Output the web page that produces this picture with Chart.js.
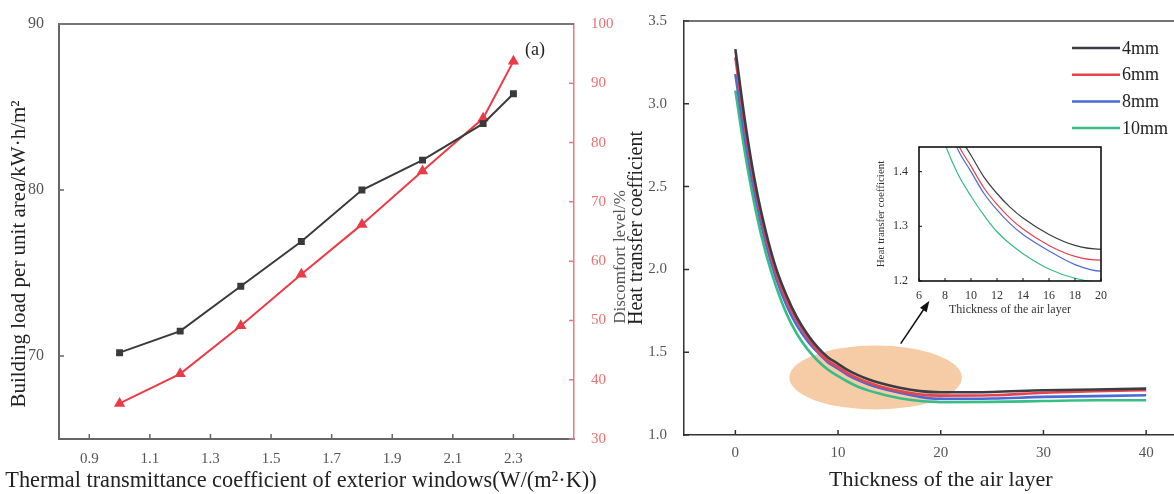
<!DOCTYPE html>
<html>
<head>
<meta charset="utf-8">
<script src="https://cdn.jsdelivr.net/npm/chart.js@4.4.1/dist/chart.umd.min.js"></script>
<style>
  html, body { margin: 0; padding: 0; background: #fff; overflow: hidden; width: 1174px; height: 494px; }
  canvas { position: absolute; top: 0; }
  #loadCanvas { left: 0; }
  #heatCanvas { left: 625px; }
  #insetCanvas { left: 860px; top: 120px; }
</style>
</head>
<body>
<canvas id="loadCanvas" width="625" height="494"></canvas>
<canvas id="heatCanvas" width="575" height="494"></canvas>
<canvas id="insetCanvas" width="250" height="200"></canvas>
<script>
// (a) window U-value vs building load / discomfort
const windowU = [1.0, 1.2, 1.4, 1.6, 1.8, 2.0, 2.2, 2.3];
const buildingLoad = [70.2, 71.5, 74.2, 76.9, 80.0, 81.8, 84.0, 85.8];
const discomfort = [36.0, 41.0, 49.1, 57.8, 66.2, 75.2, 84.1, 93.7];
const windowUTicks = [0.9, 1.1, 1.3, 1.5, 1.7, 1.9, 2.1, 2.3];
const loadTicks = [70, 80, 90];
const discomfortTicks = [30, 40, 50, 60, 70, 80, 90, 100];

// air layer thickness vs heat transfer coefficient, per glass thickness
const airGap = [0, 1, 2, 3, 4, 5, 6, 7, 8, 9, 10, 11, 12, 13, 14, 16, 18, 20, 25, 30, 35, 40];
const glass4mm = [3.33, 2.87, 2.50, 2.22, 2.00, 1.84, 1.71, 1.61, 1.53, 1.47, 1.43, 1.39, 1.36, 1.335, 1.315, 1.285, 1.265, 1.258, 1.26, 1.27, 1.275, 1.28];
const glass6mm = [3.28, 2.83, 2.47, 2.19, 1.97, 1.81, 1.69, 1.59, 1.51, 1.45, 1.41, 1.37, 1.34, 1.315, 1.295, 1.265, 1.245, 1.238, 1.24, 1.255, 1.265, 1.27];
const glass8mm = [3.18, 2.76, 2.42, 2.15, 1.94, 1.78, 1.66, 1.57, 1.50, 1.44, 1.40, 1.36, 1.33, 1.305, 1.285, 1.255, 1.23, 1.218, 1.22, 1.23, 1.235, 1.24];
const glass10mm = [3.08, 2.68, 2.35, 2.09, 1.89, 1.73, 1.61, 1.52, 1.45, 1.395, 1.355, 1.32, 1.29, 1.268, 1.25, 1.222, 1.205, 1.198, 1.2, 1.205, 1.21, 1.21];
const glassLabels = ['4mm', '6mm', '8mm', '10mm'];
const airGapTicks = [0, 10, 20, 30, 40];
const heatTicks = [1.0, 1.5, 2.0, 2.5, 3.0, 3.5];
const insetXTicks = [6, 8, 10, 12, 14, 16, 18, 20];
const insetYTicks = [1.2, 1.3, 1.4];

const SERIF = "'Liberation Serif', 'DejaVu Serif', serif";
const glassColors = ['#3c3c44', '#e5444e', '#4b6ad6', '#37bd86'];

const toPoints = (xs, ys) => xs.map((x, i) => ({ x: x, y: ys[i] }));
const setTicks = values => scale => { scale.ticks = values.map(v => ({ value: v })); };

// short tick marks pointing into the plot
const innerTicks = {
  id: 'innerTicks',
  afterDraw(chart, args, opts) {
    const ctx = chart.ctx;
    const area = chart.chartArea;
    ctx.save();
    (opts.axes || []).forEach(a => {
      const scale = chart.scales[a.id];
      ctx.strokeStyle = a.color;
      ctx.lineWidth = a.width || 1.5;
      ctx.beginPath();
      scale.ticks.forEach(t => {
        const p = scale.getPixelForValue(t.value);
        if (a.side === 'bottom') { ctx.moveTo(p, area.bottom); ctx.lineTo(p, area.bottom - a.len); }
        if (a.side === 'left') { ctx.moveTo(area.left, p); ctx.lineTo(area.left + a.len, p); }
        if (a.side === 'right') { ctx.moveTo(area.right, p); ctx.lineTo(area.right - a.len, p); }
      });
      ctx.stroke();
    });
    if (opts.topBorder) {
      ctx.strokeStyle = opts.topBorder.color;
      ctx.lineWidth = opts.topBorder.width;
      ctx.beginPath();
      ctx.moveTo(area.left, area.top);
      ctx.lineTo(area.right, area.top);
      ctx.stroke();
    }
    ctx.restore();
  }
};

// ---------- left panel ----------
const loadExtras = {
  id: 'loadExtras',
  afterDraw(chart) {
    const ctx = chart.ctx;
    const area = chart.chartArea;
    ctx.save();
    ctx.fillStyle = '#222';
    ctx.font = '18px ' + SERIF;
    ctx.textAlign = 'center';
    ctx.textBaseline = 'middle';
    ctx.fillText('(a)', area.right - 39, area.top + 26);
    // x title is wider than the axis, so it is drawn here without squeezing
    ctx.font = '22.3px ' + SERIF;
    ctx.fillText('Thermal transmittance coefficient of exterior windows(W/(m²·K))', 301, 481);
    // left y title, sits a little below the plot centre
    ctx.save();
    ctx.translate(19, 254);
    ctx.rotate(-Math.PI / 2);
    ctx.font = '21px ' + SERIF;
    ctx.fillText('Building load per unit area/kW·h/m²', 0, 0);
    ctx.restore();
    // right axis title, runs bottom to top (partly cut by the canvas edge)
    ctx.translate(621, 257);
    ctx.rotate(-Math.PI / 2);
    ctx.fillStyle = '#555';
    ctx.font = '17px ' + SERIF;
    ctx.fillText('Discomfort level/%', 0, 0);
    ctx.restore();
  }
};

new Chart(document.getElementById('loadCanvas'), {
  type: 'line',
  data: {
    datasets: [{
      label: 'Building load',
      data: toPoints(windowU, buildingLoad),
      yAxisID: 'y',
      borderColor: '#3a3a3a',
      backgroundColor: '#3a3a3a',
      borderWidth: 2,
      pointStyle: 'rect',
      pointRadius: 3.5,
      tension: 0
    }, {
      label: 'Discomfort',
      data: toPoints(windowU, discomfort),
      yAxisID: 'y1',
      borderColor: '#eb3b47',
      backgroundColor: '#eb3b47',
      borderWidth: 2,
      pointStyle: 'triangle',
      pointRadius: 4.5,
      tension: 0
    }]
  },
  options: {
    responsive: false,
    animation: false,
    layout: { padding: { top: 24, left: 0, right: 0, bottom: 0 } },
    plugins: {
      legend: { display: false },
      tooltip: { enabled: false },
      innerTicks: {
        axes: [
          { id: 'x', side: 'bottom', len: 5, color: '#666' },
          { id: 'y', side: 'left', len: 5, color: '#666' },
          { id: 'y1', side: 'right', len: 5, color: '#e77a80' }
        ],
        topBorder: { color: '#777', width: 2 }
      }
    },
    scales: {
      x: {
        type: 'linear',
        min: 0.8,
        max: 2.5,
        afterBuildTicks: setTicks(windowUTicks),
        afterFit: s => { s.height = 55; },
        grid: { display: false },
        border: { color: '#666', width: 2 },
        ticks: { callback: v => v.toFixed(1), color: '#555', padding: 3, maxRotation: 0, autoSkip: false, font: { family: SERIF, size: 15 } },
        title: { display: false }
      },
      y: {
        position: 'left',
        min: 65,
        max: 90,
        afterBuildTicks: setTicks(loadTicks),
        afterFit: s => { s.width = 59; },
        grid: { display: false },
        border: { color: '#666', width: 2 },
        ticks: { color: '#555', padding: 7, font: { family: SERIF, size: 16 } },
        title: { display: false }
      },
      y1: {
        position: 'right',
        min: 30,
        max: 100,
        afterBuildTicks: setTicks(discomfortTicks),
        afterFit: s => { s.width = 51; },
        grid: { display: false },
        border: { color: '#e77a80', width: 1.5 },
        ticks: { color: '#ee7070', padding: 9, font: { family: SERIF, size: 15 } }
      }
    }
  },
  plugins: [innerTicks, loadExtras]
});

// ---------- right panel ----------
const glassSeries = [glass4mm, glass6mm, glass8mm, glass10mm];

const heatExtras = {
  id: 'heatExtras',
  beforeDatasetsDraw(chart) {
    // highlighted zone around the knee of the curves
    const { ctx, scales: { x, y } } = chart;
    const cx = x.getPixelForValue(13.66), cy = y.getPixelForValue(1.347);
    const rx = x.getPixelForValue(13.66 + 8.4) - cx;
    const ry = cy - y.getPixelForValue(1.347 + 0.193);
    ctx.save();
    ctx.fillStyle = '#f6cca7';
    ctx.beginPath();
    ctx.ellipse(cx, cy, rx, ry, 0, 0, Math.PI * 2);
    ctx.fill();
    ctx.restore();
  },
  afterDraw(chart) {
    const { ctx, chartArea: area, scales: { x, y } } = chart;
    ctx.save();
    // arrow pointing to the zoomed view
    const x0 = x.getPixelForValue(16.1), y0 = y.getPixelForValue(1.552);
    const x1 = x.getPixelForValue(18.9), y1 = y.getPixelForValue(1.81);
    const ang = Math.atan2(y1 - y0, x1 - x0);
    ctx.strokeStyle = '#111';
    ctx.fillStyle = '#111';
    ctx.lineWidth = 1.5;
    ctx.beginPath();
    ctx.moveTo(x0, y0);
    ctx.lineTo(x1 - 8 * Math.cos(ang), y1 - 8 * Math.sin(ang));
    ctx.stroke();
    ctx.beginPath();
    ctx.moveTo(x1, y1);
    ctx.lineTo(x1 - 11 * Math.cos(ang) + 4 * Math.sin(ang), y1 - 11 * Math.sin(ang) - 4 * Math.cos(ang));
    ctx.lineTo(x1 - 11 * Math.cos(ang) - 4 * Math.sin(ang), y1 - 11 * Math.sin(ang) + 4 * Math.cos(ang));
    ctx.closePath();
    ctx.fill();
    // legend
    ctx.font = '18px ' + SERIF;
    ctx.textBaseline = 'middle';
    ctx.textAlign = 'left';
    chart.data.datasets.forEach((ds, i) => {
      const ly = area.top + 27 + i * 26.7;
      const lx = area.right - 125.5;
      ctx.strokeStyle = ds.borderColor;
      ctx.lineWidth = 2.5;
      ctx.beginPath();
      ctx.moveTo(lx, ly);
      ctx.lineTo(lx + 48, ly);
      ctx.stroke();
      ctx.fillStyle = '#222';
      ctx.fillText(ds.label, lx + 50, ly + 1);
    });
    ctx.restore();
  }
};

new Chart(document.getElementById('heatCanvas'), {
  type: 'line',
  data: {
    datasets: glassSeries.map((s, i) => ({
      label: glassLabels[i],
      data: toPoints(airGap, s),
      borderColor: glassColors[i],
      borderWidth: 2.6,
      pointRadius: 0,
      cubicInterpolationMode: 'monotone'
    }))
  },
  options: {
    responsive: false,
    animation: false,
    layout: { padding: { top: 21, left: 0, right: 2.5, bottom: 0 } },
    plugins: {
      legend: { display: false },
      tooltip: { enabled: false },
      innerTicks: {
        axes: [
          { id: 'x', side: 'bottom', len: 5, color: '#333' },
          { id: 'y', side: 'left', len: 5, color: '#333' }
        ],
        topBorder: { color: '#444', width: 1.5 }
      }
    },
    scales: {
      x: {
        type: 'linear',
        min: -5,
        max: 45,
        afterBuildTicks: setTicks(airGapTicks),
        afterFit: s => { s.height = 59; },
        grid: { display: false },
        border: { color: '#333', width: 1.5 },
        ticks: { color: '#555', padding: 1, maxRotation: 0, autoSkip: false, font: { family: SERIF, size: 15 } },
        title: { display: true, text: 'Thickness of the air layer', color: '#222', padding: { top: 0, bottom: 1 }, font: { family: SERIF, size: 22 } }
      },
      y: {
        min: 1.0,
        max: 3.5,
        afterBuildTicks: setTicks(heatTicks),
        afterFit: s => { s.width = 59; },
        grid: { display: false },
        border: { color: '#333', width: 1.5 },
        ticks: { callback: v => v.toFixed(1), color: '#555', padding: 9, font: { family: SERIF, size: 15 } },
        title: { display: true, text: 'Heat transfer coefficient', color: '#222', padding: { top: 0, bottom: 0 }, font: { family: SERIF, size: 20 } }
      }
    }
  },
  plugins: [innerTicks, heatExtras]
});

// ---------- zoomed inset ----------
const insetFrame = {
  id: 'insetFrame',
  beforeDatasetsDraw(chart) {
    const { ctx, chartArea: a } = chart;
    ctx.save();
    ctx.fillStyle = '#fff';
    ctx.fillRect(a.left, a.top, a.right - a.left, a.bottom - a.top);
    ctx.restore();
  },
  afterDraw(chart) {
    const { ctx, chartArea: a } = chart;
    ctx.save();
    ctx.strokeStyle = '#111';
    ctx.lineWidth = 1.6;
    ctx.strokeRect(a.left, a.top, a.right - a.left, a.bottom - a.top);
    ctx.restore();
  }
};

new Chart(document.getElementById('insetCanvas'), {
  type: 'line',
  data: {
    datasets: glassSeries.map((s, i) => ({
      label: glassLabels[i],
      data: toPoints(airGap, s),
      borderColor: glassColors[i],
      borderWidth: 1.2,
      pointRadius: 0,
      cubicInterpolationMode: 'monotone'
    }))
  },
  options: {
    responsive: false,
    animation: false,
    layout: { padding: { top: 27, left: 0, right: 9, bottom: 0 } },
    plugins: {
      legend: { display: false },
      tooltip: { enabled: false },
      innerTicks: {
        axes: [
          { id: 'x', side: 'bottom', len: 3, color: '#111', width: 1 },
          { id: 'y', side: 'left', len: 3, color: '#111', width: 1 }
        ]
      }
    },
    scales: {
      x: {
        type: 'linear',
        min: 6,
        max: 20,
        afterBuildTicks: setTicks(insetXTicks),
        afterFit: s => { s.height = 39; },
        grid: { display: false },
        border: { display: false },
        ticks: { color: '#333', padding: 0, maxRotation: 0, autoSkip: false, font: { family: SERIF, size: 12 } },
        title: { display: true, text: 'Thickness of the air layer', color: '#333', padding: { top: 0, bottom: 3 }, font: { family: SERIF, size: 12 } }
      },
      y: {
        min: 1.2,
        max: 1.445,
        afterBuildTicks: setTicks(insetYTicks),
        afterFit: s => { s.width = 59; },
        grid: { display: false },
        border: { display: false },
        ticks: { callback: v => v.toFixed(1), color: '#333', padding: 3, font: { family: SERIF, size: 12 } },
        title: { display: true, text: 'Heat transfer coefficient', color: '#333', padding: { top: 15, bottom: 0 }, font: { family: SERIF, size: 11 } }
      }
    }
  },
  plugins: [innerTicks, insetFrame]
});
</script>
</body>
</html>
